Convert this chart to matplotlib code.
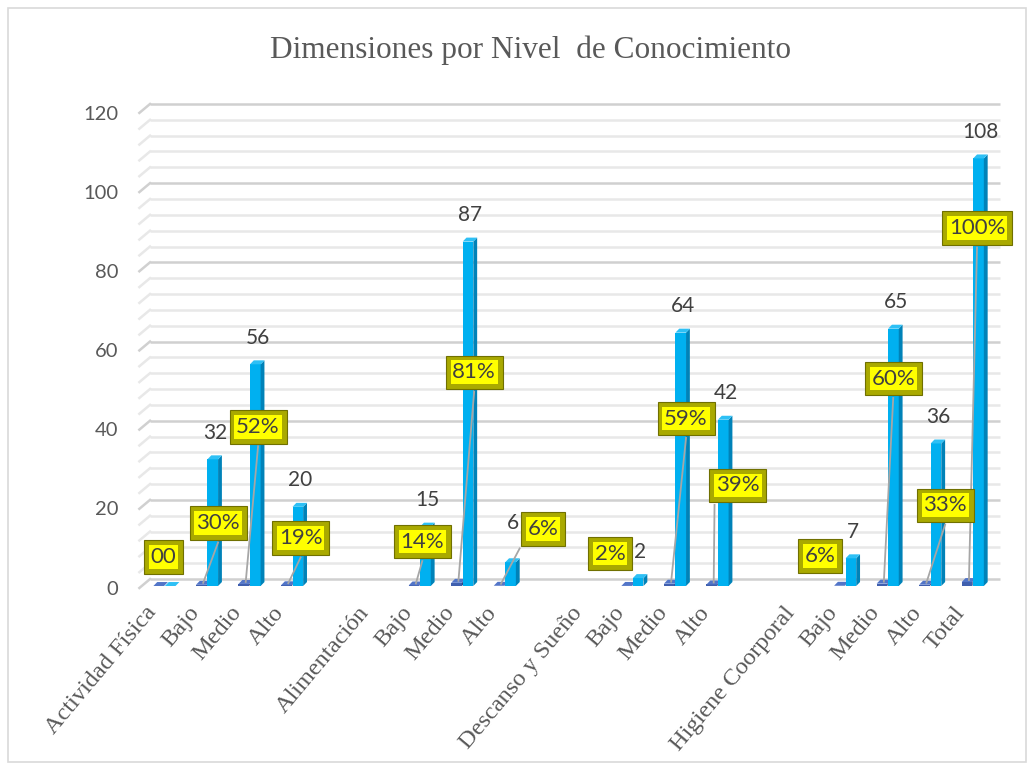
import numpy as np
import matplotlib.pyplot as plt
from matplotlib.patches import Polygon, Rectangle
import matplotlib.transforms as mtransforms

# Data ---------------------------------------------
categorias = ["Actividad Física", "Bajo", "Medio", "Alto", "",
              "Alimentación", "Bajo", "Medio", "Alto", "",
              "Descanso y Sueño", "Bajo", "Medio", "Alto", "",
              "Higiene Coorporal", "Bajo", "Medio", "Alto", "Total"]
frecuencia = [0, 32, 56, 20, np.nan,
              np.nan, 15, 87, 6, np.nan,
              np.nan, 2, 64, 42, np.nan,
              np.nan, 7, 65, 36, 108]
porcentaje = [0, 0.30, 0.52, 0.19, np.nan,
              np.nan, 0.14, 0.81, 0.06, np.nan,
              np.nan, 0.02, 0.59, 0.39, np.nan,
              np.nan, 0.06, 0.60, 0.33, 1.00]
etiquetas_pct = ["00", "30%", "52%", "19%", "",
                 "", "14%", "81%", "6%", "",
                 "", "2%", "59%", "39%", "",
                 "", "6%", "60%", "33%", "100%"]
yticks = [0, 20, 40, 60, 80, 100, 120]

# label placement (moved by hand in the original)
pct_lbl_x = [-0.1, 1.19, 2.13, 3.13, 0, 0, 5.99, 7.21, 8.83, 0,
             0, 10.4, 12.19, 13.41, 0, 0, 15.34, 17.06, 18.28, 19.03]
pct_lbl_y = [7.3, 15.9, 40.2, 12.1, 0, 0, 11.2, 54.0, 14.4, 0,
             0, 8.2, 42.3, 25.4, 0, 0, 7.6, 52.4, 20.4, 90.4]

# Style --------------------------------------------
gris = '#595959'
azul = '#00B0F0'
azul_lado = '#0082B8'
azul_top = '#2EC0F5'
oscuro = '#3F5FAE'
oscuro_lado = '#2B4483'
oscuro_top = '#5275C8'

fig = plt.figure(figsize=(10.34, 7.65), dpi=100)
fig.patches.append(Rectangle((8 / 1034, 3 / 765), 1018 / 1034, 754 / 765,
                             transform=fig.transFigure, fill=False,
                             ec='#d9d9d9', lw=1.2))
ax = fig.add_axes([150 / 1034, 1 - 586 / 765, 850 / 1034, (586 - 103) / 765])
ax.set_xlim(-0.41, 19.57)
ax.set_ylim(0, 122)
ax.axis('off')

# Back wall gridlines (3D look) ----------------------
for v in range(0, 121, 4):
    mayor = v % 20 == 0
    c = '#d0d0d0' if mayor else '#e8e8e8'
    ax.plot([-0.41, 19.57], [v + 1.75, v + 1.75], color=c, lw=1.8, zorder=0,
            clip_on=False, solid_capstyle='butt')
    ax.plot([-0.66, -0.41], [v - 0.5, v + 1.75], color=c, lw=1.8, zorder=0,
            clip_on=False)

for v in yticks:
    ax.text(-0.0376, v - 0.8, str(v), transform=mtransforms.blended_transform_factory(ax.transAxes, ax.transData),
            ha='right', va='center', fontsize=14.5, family='Lato', color=gris)

# Bars ---------------------------------------------
x = np.arange(len(categorias))
w = 0.25
dx, dy = 0.09, 1.0


def barras_3d(xs, vals, front, side, top):
    bars = ax.bar(xs, np.nan_to_num(vals), width=w, align='edge', color=front,
                  lw=0, zorder=3)
    for b, v in zip(bars, vals):
        if np.isnan(v):
            b.set_visible(False)
            continue
        x0, x1, h = b.get_x(), b.get_x() + b.get_width(), b.get_height()
        ax.add_patch(Polygon([(x1, 0), (x1 + dx, dy), (x1 + dx, h + dy), (x1, h)],
                             closed=True, fc=side, lw=0, zorder=3))
        ax.add_patch(Polygon([(x0, h), (x1, h), (x1 + dx, h + dy), (x0 + dx, h + dy)],
                             closed=True, fc=top, lw=0, zorder=3))


barras_3d(x - 0.33, porcentaje, oscuro, oscuro_lado, oscuro_top)
barras_3d(x - 0.06, frecuencia, azul, azul_lado, azul_top)

# Count labels -------------------------------------
for i, v in enumerate(frecuencia):
    if np.isnan(v) or v == 0:
        continue
    off = 10 if i == 8 else 6.7
    ax.text(x[i] + 0.12, v + off, f"{v:.0f}", ha='center', va='center',
            fontsize=15, family='Lato', color='#404040', zorder=5)

# Percent labels (yellow boxes) with leader lines ---
for i, s in enumerate(etiquetas_pct):
    if not s:
        continue
    lx, ly = pct_lbl_x[i], pct_lbl_y[i]
    p = porcentaje[i]
    base_x = x[i] - 0.33 + w / 2 + dx / 2
    if ly - 4.9 > p + 4:
        half = 0.55 if len(s) < 4 else 0.8
        ex = lx if abs(lx - base_x) < half else min(max(base_x, lx - half), lx + half)
        ax.plot([base_x, ex], [p + dy / 2, ly - 4.9], color='#a6a6a6', lw=1.3, zorder=4)
    ax.text(lx, ly, s, ha='center', va='center', fontsize=16, family='Lato',
            color='none', zorder=6,
            bbox=dict(boxstyle='square,pad=0.3', fc='#a9a900', ec='#707000', lw=0.8))
    ax.text(lx, ly, s, ha='center', va='center', fontsize=16, family='Lato',
            color='#404040', zorder=7,
            bbox=dict(boxstyle='square,pad=0.08', fc='#ffff00', ec='none'))

# Category labels ----------------------------------
tr = mtransforms.blended_transform_factory(ax.transData, ax.transAxes)
for i, lab in enumerate(categorias):
    if not lab:
        continue
    ax.text(x[i] - 0.34, -0.048, lab, transform=tr, rotation=50,
            rotation_mode='anchor', ha='right', va='center',
            fontsize=17.5, family='Liberation Serif', color=gris)

# Title --------------------------------------------
fig.text(531 / 1034, 1 - 50 / 765, "Dimensiones por Nivel  de Conocimiento",
         ha='center', va='center', fontsize=22.5, family='Liberation Serif', color=gris)

plt.savefig("out.png", dpi=100)
